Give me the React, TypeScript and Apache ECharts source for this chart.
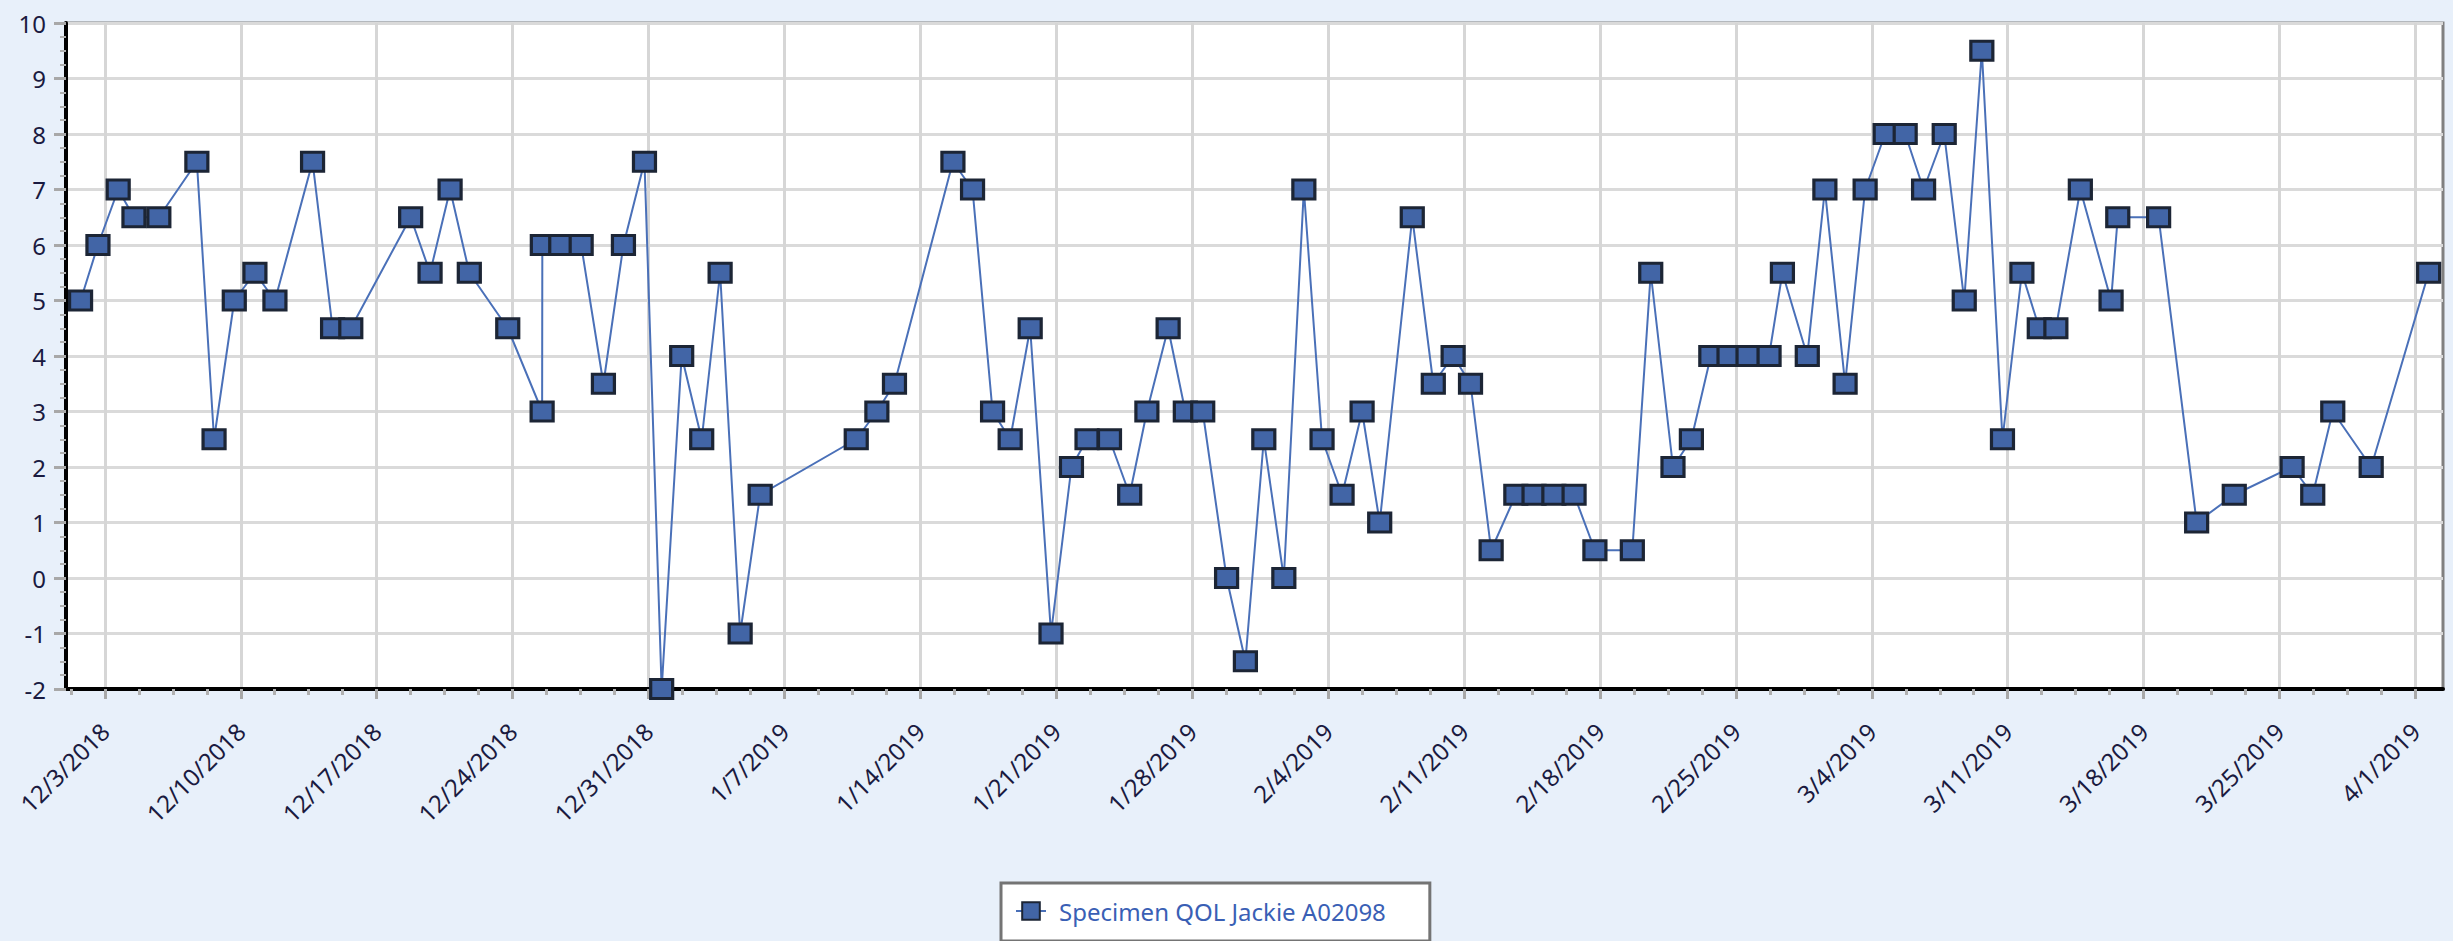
import React, { useEffect, useRef } from 'react';
import * as echarts from 'echarts';

const SERIES_NAME = 'Specimen QOL Jackie A02098';

const dates: string[] = [
  '2018-12-01 18:00', '2018-12-02 15:30', '2018-12-03 16:30', '2018-12-04 12:00', '2018-12-05 18:45',
  '2018-12-07 17:45', '2018-12-08 15:00', '2018-12-09 16:00', '2018-12-10 17:30', '2018-12-11 18:15',
  '2018-12-13 16:45', '2018-12-14 17:30', '2018-12-15 16:00', '2018-12-18 18:00', '2018-12-19 18:00',
  '2018-12-20 18:45', '2018-12-21 18:30', '2018-12-23 18:00', '2018-12-25 12:30', '2018-12-25 12:45',
  '2018-12-26 11:30', '2018-12-27 12:45', '2018-12-28 16:15', '2018-12-29 17:00', '2018-12-30 19:00',
  '2018-12-31 16:15', '2019-01-01 17:00', '2019-01-02 17:45', '2019-01-03 16:30', '2019-01-04 17:15',
  '2019-01-05 18:00', '2019-01-10 16:45', '2019-01-11 18:15', '2019-01-12 16:00', '2019-01-15 16:15',
  '2019-01-16 16:30', '2019-01-17 17:15', '2019-01-18 15:00', '2019-01-19 15:45', '2019-01-20 17:30',
  '2019-01-21 18:45', '2019-01-22 14:00', '2019-01-23 17:45', '2019-01-24 18:45', '2019-01-25 16:00',
  '2019-01-26 18:15', '2019-01-27 15:30', '2019-01-28 13:00', '2019-01-29 18:30', '2019-01-30 17:45',
  '2019-01-31 16:30', '2019-02-01 17:15', '2019-02-02 18:00', '2019-02-03 16:30', '2019-02-04 17:15',
  '2019-02-05 18:00', '2019-02-06 15:45', '2019-02-08 08:00', '2019-02-09 10:00', '2019-02-10 10:30',
  '2019-02-11 08:00', '2019-02-12 09:30', '2019-02-13 16:00', '2019-02-14 14:30', '2019-02-15 15:00',
  '2019-02-16 16:00', '2019-02-17 17:45', '2019-02-19 16:00', '2019-02-20 14:45', '2019-02-21 18:15',
  '2019-02-22 17:00', '2019-02-23 17:00', '2019-02-24 15:30', '2019-02-25 15:00', '2019-02-26 17:00',
  '2019-02-27 09:30', '2019-02-28 16:15', '2019-03-01 14:00', '2019-03-02 15:00', '2019-03-03 15:45',
  '2019-03-04 16:30', '2019-03-05 17:15', '2019-03-06 16:00', '2019-03-07 17:30', '2019-03-08 18:15',
  '2019-03-09 16:00', '2019-03-10 17:30', '2019-03-11 17:30', '2019-03-12 15:00', '2019-03-13 11:30',
  '2019-03-14 17:45', '2019-03-16 07:45', '2019-03-16 16:00', '2019-03-18 18:30', '2019-03-20 17:30',
  '2019-03-22 16:00', '2019-03-25 15:30', '2019-03-26 17:00', '2019-03-27 17:45', '2019-03-29 17:15',
  '2019-04-01 16:15',
];

const values: number[] = [
  5, 6, 7, 6.5, 6.5,
  7.5, 2.5, 5, 5.5, 5,
  7.5, 4.5, 4.5, 6.5, 5.5,
  7, 5.5, 4.5, 3, 6,
  6, 6, 3.5, 6, 7.5,
  -2, 4, 2.5, 5.5, -1,
  1.5, 2.5, 3, 3.5, 7.5,
  7, 3, 2.5, 4.5, -1,
  2, 2.5, 2.5, 1.5, 3,
  4.5, 3, 3, 0, -1.5,
  2.5, 0, 7, 2.5, 1.5,
  3, 1, 6.5, 3.5, 4,
  3.5, 0.5, 1.5, 1.5, 1.5,
  1.5, 0.5, 0.5, 5.5, 2,
  2.5, 4, 4, 4, 4,
  5.5, 4, 7, 3.5, 7,
  8, 8, 7, 8, 5,
  9.5, 2.5, 5.5, 4.5, 4.5,
  7, 5, 6.5, 6.5, 1,
  1.5, 2, 1.5, 3, 2,
  5.5,
];

const weekTicks: string[] = [
  '2018-12-03', '2018-12-10', '2018-12-17', '2018-12-24', '2018-12-31', '2019-01-07',
  '2019-01-14', '2019-01-21', '2019-01-28', '2019-02-04', '2019-02-11', '2019-02-18',
  '2019-02-25', '2019-03-04', '2019-03-11', '2019-03-18', '2019-03-25', '2019-04-01',
];

const axisStart = '2018-12-01 00:00';
const axisEnd = '2019-04-02 10:00';
const yMin = -2;
const yMax = 10;
const yStep = 1;

const toTs = (s: string): number => {
  const str = s.length === 10 ? s + 'T00:00' : s.replace(' ', 'T');
  return new Date(str).getTime();
};

const fmtDate = (v: number): string => {
  const d = new Date(Math.round(v));
  return `${d.getMonth() + 1}/${d.getDate()}/${d.getFullYear()}`;
};

export default function App() {
  const ref = useRef<HTMLDivElement>(null);

  useEffect(() => {
    document.body.style.margin = '0';
    if (!ref.current) return;
    const chart = echarts.init(ref.current, undefined, { renderer: 'svg' });

    const minX = toTs(axisStart);
    const maxX = toTs(axisEnd);
    const majorTs = weekTicks.map(toTs);
    const dayMs = 86400000;
    const minorTs: number[] = [];
    majorTs.forEach((t, i) => {
      [1, 2, 3].forEach((k) => {
        const a = t + k * 1.75 * dayMs;
        if (a < maxX) minorTs.push(a);
      });
      if (i === 0) {
        const b = t - 1.75 * dayMs;
        if (b > minX) minorTs.push(b);
      }
    });

    const seriesData = dates.map((d, i) => [toTs(d), values[i]]);
    const labelColor = '#1a1a40';
    const font = '"Noto Sans", "Open Sans", sans-serif';

    chart.setOption({
      animation: false,
      backgroundColor: '#e8f0fa',
      grid: {
        left: 66,
        right: 10,
        top: 23,
        bottom: 252,
        show: true,
        backgroundColor: '#ffffff',
        borderColor: '#808080',
        borderWidth: 3,
      },
      legend: {
        show: true,
        left: 1001,
        top: 883,
        padding: [16, 44, 18, 14],
        backgroundColor: '#ffffff',
        borderColor: '#747474',
        borderWidth: 3,
        borderRadius: 0,
        itemWidth: 30,
        itemHeight: 22,
        textStyle: {
          color: '#3a5fb5',
          fontSize: 24,
          fontFamily: font,
          padding: [0, 0, 0, 8],
        },
        data: [SERIES_NAME],
      },
      xAxis: [
        {
          type: 'value',
          min: minX,
          max: maxX,
          position: 'bottom',
          axisLine: { show: true, onZero: false, lineStyle: { color: '#000000', width: 4 } },
          axisTick: {
            show: true,
            customValues: majorTs,
            length: 10,
            lineStyle: { color: '#a8a8a8', width: 3 },
          },
          axisLabel: {
            show: true,
            customValues: majorTs,
            rotate: 45,
            margin: 38,
            fontSize: 24,
            color: labelColor,
            fontFamily: font,
            hideOverlap: false,
            formatter: (v: number) => fmtDate(v),
          },
          splitLine: { show: true, lineStyle: { color: '#d6d6d6', width: 3 } },
        },
        {
          type: 'value',
          min: minX,
          max: maxX,
          position: 'bottom',
          axisLine: { show: false, onZero: false },
          axisTick: {
            show: true,
            customValues: minorTs,
            length: 6,
            lineStyle: { color: '#b0b0b0', width: 3 },
          },
          axisLabel: { show: false },
          splitLine: { show: false },
        },
      ],
      yAxis: {
        type: 'value',
        min: yMin,
        max: yMax,
        interval: yStep,
        axisLine: { show: true, onZero: false, lineStyle: { color: '#000000', width: 4 } },
        axisTick: { show: true, length: 12, lineStyle: { color: '#a8a8a8', width: 3 } },
        minorTick: { show: true, splitNumber: 4, length: 6, lineStyle: { color: '#b0b0b0', width: 2 } },
        axisLabel: { fontSize: 24, color: labelColor, margin: 20, fontFamily: font },
        splitLine: { show: true, lineStyle: { color: '#dadada', width: 3 } },
      },
      series: [
        {
          name: SERIES_NAME,
          type: 'line',
          xAxisIndex: 0,
          data: seriesData,
          symbol: 'rect',
          symbolSize: [22, 19],
          showAllSymbol: true,
          lineStyle: { color: '#4a70b8', width: 2 },
          itemStyle: { color: '#4265a6', borderColor: '#1c2535', borderWidth: 3 },
          z: 5,
        },
      ],
    });

    return () => chart.dispose();
  }, []);

  return <div ref={ref} style={{ width: 2453, height: 941 }} />;
}
